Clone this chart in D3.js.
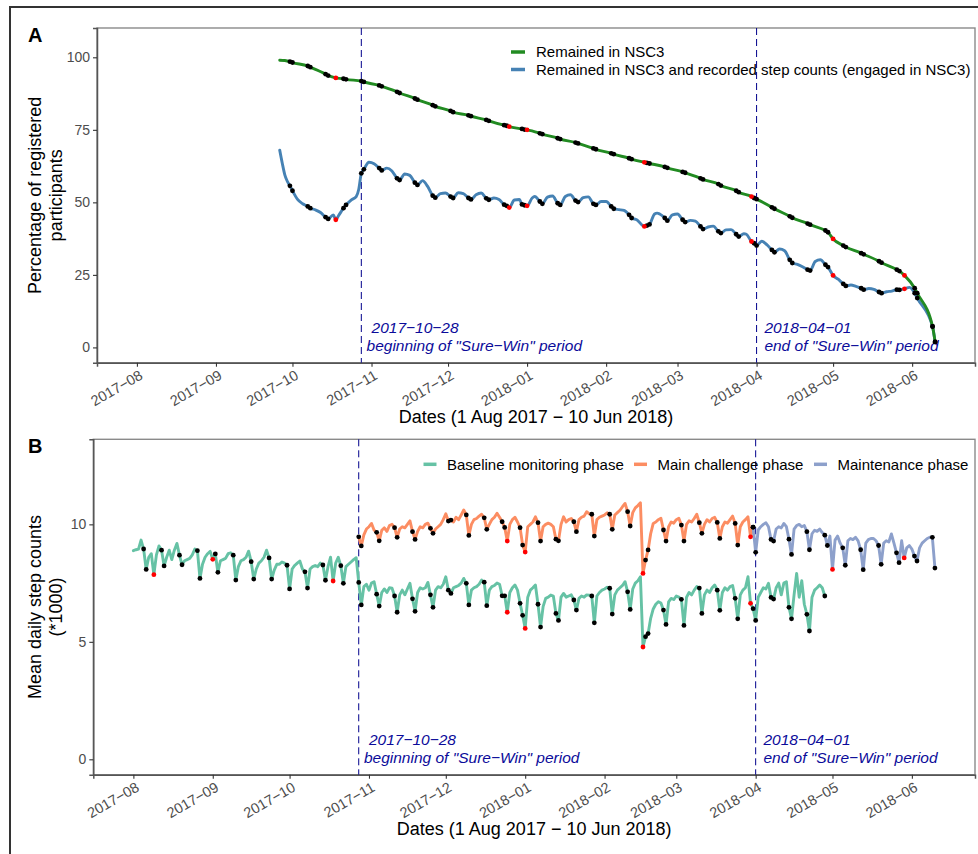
<!DOCTYPE html>
<html>
<head>
<meta charset="utf-8">
<script src="https://cdn.jsdelivr.net/npm/d3@7"></script>
<style>
  body { margin: 0; background: #fff; }
  text { font-family: "Liberation Sans", Arial, sans-serif; }
</style>
</head>
<body>
<svg id="chart" width="978" height="854"></svg>
<script>
// ---- data ----
const tickMonths = ["2017-08", "2017-09", "2017-10", "2017-11", "2017-12", "2018-01",
  "2018-02", "2018-03", "2018-04", "2018-05", "2018-06"];
const holidays = ["2017-08-09", "2017-09-01", "2017-10-18", "2017-12-25", "2018-01-01",
  "2018-02-16", "2018-03-30", "2018-05-01", "2018-05-29"];
const markerDates = ["2017-10-28", "2018-04-01"];
const markerNotes = [["2017\u221210\u221228", "beginning of \"Sure\u2212Win\" period"],
  ["2018\u221204\u221201", "end of \"Sure\u2212Win\" period"]];

// panel A: percentage of registered participants
const remainedRows = [
  ["2017-09-26", 99.0], ["2017-09-28", 98.9], ["2017-09-30", 98.5], ["2017-10-01", 98.2],
  ["2017-10-07", 97.0], ["2017-10-08", 96.6], ["2017-10-14", 94.2], ["2017-10-15", 93.7],
  ["2017-10-18", 92.9], ["2017-10-21", 92.6], ["2017-10-22", 92.4], ["2017-10-28", 91.8],
  ["2017-10-29", 91.5], ["2017-11-04", 90.3], ["2017-11-05", 90.0], ["2017-11-11", 88.1],
  ["2017-11-12", 87.7], ["2017-11-18", 85.8], ["2017-11-19", 85.4], ["2017-11-25", 83.5],
  ["2017-11-26", 83.1], ["2017-12-02", 81.5], ["2017-12-03", 81.1], ["2017-12-09", 80.0],
  ["2017-12-10", 79.7], ["2017-12-16", 78.4], ["2017-12-17", 78.1], ["2017-12-23", 76.6],
  ["2017-12-24", 76.4], ["2017-12-25", 76.1], ["2017-12-30", 75.3], ["2017-12-31", 75.1],
  ["2018-01-01", 75.0], ["2018-01-06", 73.8], ["2018-01-07", 73.5], ["2018-01-13", 72.1],
  ["2018-01-14", 71.8], ["2018-01-20", 70.6], ["2018-01-21", 70.3], ["2018-01-27", 68.6],
  ["2018-01-28", 68.3], ["2018-02-03", 66.9], ["2018-02-04", 66.6], ["2018-02-10", 65.2],
  ["2018-02-11", 64.9], ["2018-02-16", 63.8], ["2018-02-17", 63.6], ["2018-02-18", 63.4],
  ["2018-02-24", 62.2], ["2018-02-25", 61.9], ["2018-03-03", 60.5], ["2018-03-04", 60.2],
  ["2018-03-10", 58.3], ["2018-03-11", 57.9], ["2018-03-17", 56.3], ["2018-03-18", 55.8],
  ["2018-03-24", 54.0], ["2018-03-25", 53.5], ["2018-03-30", 52.0], ["2018-03-31", 51.5],
  ["2018-04-01", 51.1], ["2018-04-07", 48.3], ["2018-04-08", 47.8], ["2018-04-14", 45.2],
  ["2018-04-15", 44.7], ["2018-04-21", 42.7], ["2018-04-22", 42.3], ["2018-04-28", 40.3],
  ["2018-04-29", 39.7], ["2018-05-01", 37.4], ["2018-05-05", 35.1], ["2018-05-06", 34.6],
  ["2018-05-12", 32.5], ["2018-05-13", 32.1], ["2018-05-19", 29.7], ["2018-05-20", 29.2],
  ["2018-05-26", 26.8], ["2018-05-27", 26.3], ["2018-05-29", 24.8], ["2018-06-02", 20.4],
  ["2018-06-03", 18.7], ["2018-06-09", 7.2], ["2018-06-10", 1.9]
];
const engagedRows = [
  ["2017-09-26", 68.0], ["2017-09-27", 63.5], ["2017-09-28", 59.5], ["2017-09-29", 57.2],
  ["2017-09-30", 55.7], ["2017-10-01", 54.0], ["2017-10-03", 51.0], ["2017-10-05", 49.5],
  ["2017-10-07", 48.6], ["2017-10-08", 48.0], ["2017-10-10", 47.4], ["2017-10-12", 46.5],
  ["2017-10-14", 44.9], ["2017-10-15", 44.3], ["2017-10-17", 45.7], ["2017-10-18", 44.0],
  ["2017-10-19", 45.3], ["2017-10-21", 48.0], ["2017-10-22", 49.1], ["2017-10-24", 50.8],
  ["2017-10-26", 52.0], ["2017-10-27", 54.5], ["2017-10-28", 60.0], ["2017-10-29", 61.4],
  ["2017-10-31", 63.8], ["2017-11-02", 63.3], ["2017-11-04", 61.8], ["2017-11-05", 61.0],
  ["2017-11-07", 61.8], ["2017-11-09", 60.8], ["2017-11-11", 58.3], ["2017-11-12", 57.7],
  ["2017-11-14", 59.8], ["2017-11-16", 59.3], ["2017-11-18", 56.8], ["2017-11-19", 56.0],
  ["2017-11-21", 57.5], ["2017-11-23", 55.5], ["2017-11-25", 52.3], ["2017-11-26", 51.6],
  ["2017-11-28", 53.0], ["2017-11-30", 53.2], ["2017-12-02", 52.0], ["2017-12-03", 51.5],
  ["2017-12-05", 53.3], ["2017-12-07", 53.0], ["2017-12-09", 51.5], ["2017-12-10", 51.0],
  ["2017-12-12", 52.6], ["2017-12-14", 53.2], ["2017-12-16", 51.4], ["2017-12-17", 50.9],
  ["2017-12-19", 51.5], ["2017-12-21", 51.0], ["2017-12-23", 49.2], ["2017-12-24", 48.8],
  ["2017-12-25", 48.2], ["2017-12-27", 50.8], ["2017-12-29", 51.0], ["2017-12-30", 49.3],
  ["2017-12-31", 49.0], ["2018-01-01", 48.8], ["2018-01-03", 51.5], ["2018-01-04", 52.0],
  ["2018-01-06", 50.3], ["2018-01-07", 49.5], ["2018-01-09", 51.8], ["2018-01-11", 52.2],
  ["2018-01-13", 49.7], ["2018-01-14", 49.1], ["2018-01-16", 52.0], ["2018-01-18", 52.6],
  ["2018-01-20", 50.6], ["2018-01-21", 50.1], ["2018-01-23", 51.6], ["2018-01-25", 51.9],
  ["2018-01-27", 49.5], ["2018-01-28", 49.1], ["2018-01-30", 50.3], ["2018-02-01", 50.3],
  ["2018-02-03", 48.6], ["2018-02-04", 47.8], ["2018-02-06", 47.5], ["2018-02-08", 47.2],
  ["2018-02-10", 45.7], ["2018-02-11", 44.6], ["2018-02-13", 44.0], ["2018-02-16", 41.7],
  ["2018-02-17", 42.0], ["2018-02-18", 42.4], ["2018-02-20", 46.0], ["2018-02-21", 46.3],
  ["2018-02-22", 46.0], ["2018-02-24", 44.6], ["2018-02-25", 43.7], ["2018-02-27", 45.7],
  ["2018-03-01", 46.0], ["2018-03-03", 44.0], ["2018-03-04", 43.2], ["2018-03-06", 43.8],
  ["2018-03-08", 43.5], ["2018-03-10", 41.7], ["2018-03-11", 40.8], ["2018-03-13", 41.5],
  ["2018-03-15", 41.8], ["2018-03-17", 40.0], ["2018-03-18", 39.4], ["2018-03-20", 40.5],
  ["2018-03-22", 40.6], ["2018-03-24", 39.0], ["2018-03-25", 38.2], ["2018-03-27", 39.2],
  ["2018-03-28", 39.0], ["2018-03-30", 36.5], ["2018-03-31", 35.9], ["2018-04-01", 35.1],
  ["2018-04-03", 36.6], ["2018-04-05", 35.4], ["2018-04-07", 33.6], ["2018-04-08", 32.8],
  ["2018-04-10", 33.9], ["2018-04-12", 33.3], ["2018-04-14", 30.2], ["2018-04-15", 29.1],
  ["2018-04-17", 28.6], ["2018-04-19", 27.8], ["2018-04-21", 26.8], ["2018-04-22", 26.5],
  ["2018-04-24", 29.6], ["2018-04-26", 30.2], ["2018-04-28", 28.5], ["2018-04-29", 27.7],
  ["2018-05-01", 24.8], ["2018-05-03", 23.5], ["2018-05-05", 21.9], ["2018-05-06", 21.2],
  ["2018-05-08", 21.5], ["2018-05-10", 21.0], ["2018-05-12", 20.4], ["2018-05-13", 19.9],
  ["2018-05-15", 20.3], ["2018-05-17", 20.0], ["2018-05-19", 19.1], ["2018-05-20", 18.7],
  ["2018-05-22", 19.2], ["2018-05-24", 19.4], ["2018-05-26", 19.9], ["2018-05-27", 19.8],
  ["2018-05-29", 20.2], ["2018-05-31", 20.7], ["2018-06-02", 18.7], ["2018-06-03", 17.0],
  ["2018-06-09", 7.2], ["2018-06-10", 1.9]
];

// panel B: mean daily step counts (*1000), one value per day from the start date
const baselineStart = "2017-08-01";
const baselineSteps = [
  8.88, 8.92, 8.95, 9.33, 8.95, 8.08,
  8.6, 8.75, 7.86, 8.7, 9.08, 8.9, 8.23,
  8.6, 8.9, 8.5, 8.9, 9.19, 8.69, 8.28,
  8.45, 8.5, 8.55, 8.7, 8.95, 8.88, 7.70,
  8.3, 8.6, 8.75, 8.85, 8.51, 8.74, 7.96,
  8.45, 8.5, 8.55, 8.75, 8.79, 8.69, 7.63,
  8.2, 8.45, 8.5, 8.6, 8.86, 8.41, 7.67,
  8.1, 8.35, 8.45, 8.6, 8.9, 8.57, 7.67,
  8.05, 8.3, 8.3, 8.4, 8.35, 8.26, 7.25,
  8.1, 8.25, 8.35, 8.44, 8.1, 7.98, 7.29,
  8.1, 8.2, 8.25, 8.2, 8.35, 8.27, 7.62,
  8.2, 8.6, 7.59, 8.35, 8.6, 8.24, 7.49,
  8.2, 8.3, 8.4, 8.5, 8.58, 7.53, 6.57,
  7.35, 7.45, 7.2, 7.5, 7.56, 7.03, 6.52,
  7.1, 7.25, 7.1, 7.3, 7.28, 6.95, 6.26,
  7.0, 7.2, 7.0, 7.25, 7.49, 6.83, 6.30,
  7.1, 7.3, 7.25, 7.3, 7.53, 7.0, 6.47,
  7.2, 7.35, 7.3, 7.45, 7.77, 7.2, 7.06,
  7.3, 7.35, 7.4, 7.5, 7.70, 7.49, 6.57,
  7.2, 7.3, 7.35, 7.45, 7.63, 7.54, 6.54,
  7.2, 7.35, 7.4, 7.5, 7.45, 6.96, 6.96,
  6.26, 7.1, 7.3, 7.42, 7.2, 6.64, 6.13,
  5.57, 6.9, 7.2, 7.3, 7.42, 6.60, 5.63,
  6.5, 6.85, 6.9, 6.99, 6.95, 6.21, 5.91,
  6.9, 7.06, 6.9, 6.95, 7.0, 6.78, 6.35,
  6.85, 6.95, 6.9, 7.0, 6.99, 6.95, 5.81,
  6.95, 7.1, 7.2, 7.25, 7.32, 7.28, 6.18,
  7.0, 7.2, 7.3, 7.4, 7.56, 7.13, 6.38,
  7.25, 7.5, 7.6, 7.77, 4.78, 5.22, 5.35,
  6.0, 6.4, 6.6, 6.71, 6.65, 6.35, 5.74,
  6.7, 6.85, 6.8, 6.95, 6.9, 6.81, 5.70,
  6.9, 7.1, 7.0, 7.2, 7.35, 7.29, 6.21,
  7.0, 7.2, 7.1, 7.3, 7.42, 7.2, 6.34,
  7.1, 7.3, 7.2, 7.35, 7.4, 6.85, 5.98,
  7.0, 7.2, 7.3, 7.77, 6.64, 6.41, 5.91,
  6.9, 7.1, 7.3, 7.25, 7.49, 6.89, 6.82,
  7.3, 7.5, 7.0, 7.5, 7.56, 6.47, 5.98,
  7.0, 7.91, 6.9, 7.6, 6.6, 6.17, 5.46,
  6.9, 7.2, 7.3, 7.42, 7.3, 6.95
];
const challengeStart = "2017-10-28";
const challengeSteps = [
  9.47, 9.08,
  9.55, 9.8, 9.9, 10.04, 9.75, 9.66, 9.30,
  9.75, 9.85, 9.7, 9.95, 10.0, 9.86, 9.45,
  9.8, 9.9, 9.85, 10.0, 10.15, 9.69, 9.36,
  9.7, 9.9, 9.85, 10.0, 10.05, 9.83, 9.62,
  9.8, 9.9, 10.0, 10.2, 10.45, 10.14, 10.18,
  10.1, 10.3, 10.2, 10.4, 10.61, 10.4, 9.53,
  10.0, 10.2, 10.25, 10.35, 10.43, 10.28, 9.79,
  10.0, 10.2, 10.3, 10.47, 10.3, 10.11, 9.87,
  9.29, 10.0, 10.2, 10.3, 10.1, 9.86, 9.12,
  8.82, 9.9, 10.0, 10.1, 10.32, 10.07, 9.29,
  9.9, 10.0, 10.05, 10.0, 9.9, 9.37, 9.30,
  10.0, 10.32, 10.1, 10.2, 10.25, 10.11, 9.69,
  10.2, 10.3, 10.35, 10.54, 10.45, 10.43, 9.50,
  10.2, 10.3, 10.35, 10.4, 10.49, 10.43, 9.79,
  10.4, 10.5, 10.6, 10.75, 10.89, 10.54, 9.93,
  10.5, 10.7, 10.8, 10.92, 7.91, 8.48, 8.91,
  9.6, 10.04, 10.1, 10.2, 10.26, 9.76, 9.29,
  9.9, 10.1, 10.05, 10.2, 10.26, 9.97, 9.29,
  10.0, 10.15, 10.1, 10.25, 10.43, 10.07, 9.62,
  10.0, 10.2, 10.1, 10.25, 10.3, 10.08, 9.40,
  9.9, 10.1, 10.05, 10.2, 10.35, 10.04, 9.12,
  9.9, 10.1, 10.2, 10.32, 9.47, 9.88
];
const maintenanceStart = "2018-03-31";
const maintenanceSteps = [
  9.88, 8.81,
  9.76, 9.9, 10.0, 10.07, 9.9, 9.36, 9.29,
  9.8, 9.9, 9.85, 10.04, 9.9, 9.37, 8.72,
  9.8, 9.95, 10.0, 9.9, 9.95, 9.69, 8.92,
  9.6, 9.75, 9.7, 9.8, 9.65, 9.54, 9.1,
  9.5, 8.08, 9.33, 9.5, 9.2, 9.0, 8.26,
  9.3, 9.4, 9.35, 9.45, 9.3, 8.92, 8.07,
  9.2, 9.35, 9.4, 9.4, 9.3, 9.1, 8.30,
  9.2, 9.3, 9.25, 9.59, 9.2, 8.79, 8.37,
  9.3, 8.57, 9.0, 9.1, 8.95, 8.65, 8.44,
  9.0, 9.2, 9.3, 9.4, 9.45, 9.45, 8.14
];

// ---- helpers ----
const parseDate = d3.utcParse("%Y-%m-%d");
const dayKey = d3.utcFormat("%Y-%m-%d");
const dayMs = 864e5;
const minus = s => s.replace(/-/g, "\u2212");
const holidaySet = new Set(holidays);

const fromPairs = rows => rows.map(r => ({ date: parseDate(r[0]), value: r[1] }));
const fromDaily = (start, vals) => vals.map((v, i) => ({
  date: new Date(parseDate(start).getTime() + i * dayMs), value: v
}));
const isMarked = d => {
  const wd = d.date.getUTCDay();
  return wd === 0 || wd === 6 || holidaySet.has(dayKey(d.date));
};
const dotColor = d => holidaySet.has(dayKey(d.date)) ? "#ff0000" : "#000000";

const svg = d3.select("#chart");
svg.append("rect").attr("width", 978).attr("height", 854).attr("fill", "#fff");
svg.append("rect")
  .attr("x", 10).attr("y", 7).attr("width", 1200).attr("height", 1200)
  .attr("fill", "none").attr("stroke", "#333").attr("stroke-width", 2);

// both panels share the same date span (ggplot expansion around 1 Aug 2017 - 10 Jun 2018)
const xDomain = [new Date(Date.UTC(2017, 6, 16, 8, 24)), new Date(Date.UTC(2018, 5, 25, 15, 36))];
const monthDates = tickMonths.map(m => parseDate(m + "-01"));

const drawPanel = p => {
  const x = d3.scaleUtc().domain(xDomain).range([p.left, p.right]);
  const y = d3.scaleLinear().domain(p.yDomain).range([p.bottom, p.top]);
  const g = svg.append("g");

  g.append("rect")
    .attr("x", p.left).attr("y", p.top)
    .attr("width", p.right - p.left).attr("height", p.bottom - p.top)
    .attr("fill", "none").attr("stroke", "#8a8a8a").attr("stroke-width", 1.4);

  const yAxis = g.append("g")
    .attr("transform", `translate(${p.left},0)`)
    .call(d3.axisLeft(y).tickValues(p.yTicks).tickSize(4).tickPadding(3).tickFormat(d3.format("d")));
  const xAxis = g.append("g")
    .attr("transform", `translate(0,${p.bottom})`)
    .call(d3.axisBottom(x).tickValues(monthDates).tickSize(4)
      .tickFormat((d, i) => minus(tickMonths[i])));
  [yAxis, xAxis].forEach(a => {
    a.select(".domain").attr("stroke", "#555").attr("stroke-width", 1.5);
    a.selectAll(".tick line").attr("stroke", "#333").attr("stroke-width", 1.1);
    a.selectAll(".tick text").attr("fill", "#4d4d4d")
      .style("font-size", "14px").style("font-family", "'Liberation Sans', Arial, sans-serif");
  });
  xAxis.selectAll(".tick text")
    .style("font-size", "14.5px")
    .attr("x", 0).attr("y", 0).attr("dy", "0.75em")
    .attr("transform", "translate(1,6) rotate(-30)")
    .style("text-anchor", "end");

  // x title
  g.append("text")
    .attr("x", (p.left + p.right) / 2).attr("y", p.bottom + 60)
    .attr("text-anchor", "middle").attr("font-size", 18)
    .text("Dates (1 Aug 2017 \u2212 10 Jun 2018)");

  // y title, two lines
  const cy = (p.top + p.bottom) / 2;
  p.yTitle.forEach((line, i) => {
    g.append("text")
      .attr("transform", `translate(${41 + i * 21},${cy}) rotate(-90)`)
      .attr("text-anchor", "middle").attr("font-size", 18)
      .text(line);
  });

  // panel letter
  g.append("text")
    .attr("x", 28).attr("y", p.top + 14)
    .attr("font-size", 20).attr("font-weight", "bold")
    .text(p.letter);

  // Sure-Win markers with a two-line note
  markerDates.forEach((m, i) => {
    const mx = x(parseDate(m));
    g.append("line")
      .attr("x1", mx).attr("x2", mx).attr("y1", p.top).attr("y2", p.bottom)
      .attr("stroke", "#00008b").attr("stroke-width", 1).attr("stroke-dasharray", "7,4");
    const tx = mx + (i === 0 ? 5.2 : 7.8);
    const note = g.append("text")
      .attr("font-size", 15.5).attr("font-style", "italic").attr("fill", "#0b0b9a");
    note.append("tspan")
      .attr("x", tx + (i === 0 ? 5 : 0)).attr("y", p.bottom - 29.5)
      .text(markerNotes[i][0]);
    note.append("tspan")
      .attr("x", tx).attr("y", p.bottom - 11.5)
      .text(markerNotes[i][1]);
  });

  return { x, y, g };
};

const drawSeries = (panel, rows, color, curve) => {
  panel.g.append("path")
    .datum(rows)
    .attr("fill", "none").attr("stroke", color).attr("stroke-width", 2.9)
    .attr("stroke-linejoin", "round").attr("stroke-linecap", "round")
    .attr("d", d3.line().x(d => panel.x(d.date)).y(d => panel.y(d.value)).curve(curve));
};

const drawDots = (panel, rows) => {
  const marked = rows.filter(isMarked)
    .sort((a, b) => d3.ascending(dotColor(a) === "#ff0000", dotColor(b) === "#ff0000"));
  panel.g.append("g").selectAll("circle")
    .data(marked)
    .join("circle")
    .attr("cx", d => panel.x(d.date)).attr("cy", d => panel.y(d.value))
    .attr("r", 2.4).attr("fill", dotColor);
};

// ---- panel A ----
const panelA = drawPanel({
  left: 97, right: 975, top: 28, bottom: 362.7,
  yDomain: [-5.27, 110.1], yTicks: [0, 25, 50, 75, 100],
  yTitle: ["Percentage of registered", "participants"], letter: "A"
});
const remained = fromPairs(remainedRows);
const engaged = fromPairs(engagedRows);
drawSeries(panelA, engaged, "#4682b4", d3.curveMonotoneX);
drawSeries(panelA, remained, "#228b22", d3.curveMonotoneX);
drawDots(panelA, engaged);
drawDots(panelA, remained);

const legendA = [["Remained in NSC3", "#228b22"],
  ["Remained in NSC3 and recorded step counts (engaged in NSC3)", "#4682b4"]];
legendA.forEach((item, i) => {
  const ly = 52 + i * 17.5;
  panelA.g.append("line")
    .attr("x1", 511).attr("x2", 525).attr("y1", ly).attr("y2", ly)
    .attr("stroke", item[1]).attr("stroke-width", 3.5);
  panelA.g.append("text")
    .attr("x", 536).attr("y", ly).attr("dy", "0.35em")
    .attr("font-size", 15).text(item[0]);
});

// ---- panel B ----
const panelB = drawPanel({
  left: 93.3, right: 975, top: 439.3, bottom: 774.7,
  yDomain: [-0.655, 13.62], yTicks: [0, 5, 10],
  yTitle: ["Mean daily step counts", "(*1000)"], letter: "B"
});
const phases = [
  { name: "Baseline monitoring phase", color: "#66c2a5", rows: fromDaily(baselineStart, baselineSteps), lx: 423.5 },
  { name: "Main challenge phase", color: "#fc8d62", rows: fromDaily(challengeStart, challengeSteps), lx: 634 },
  { name: "Maintenance phase", color: "#8da0cb", rows: fromDaily(maintenanceStart, maintenanceSteps), lx: 814 }
];
phases.forEach(ph => drawSeries(panelB, ph.rows, ph.color, d3.curveLinear));
phases.forEach(ph => drawDots(panelB, ph.rows));
phases.forEach(ph => {
  panelB.g.append("line")
    .attr("x1", ph.lx).attr("x2", ph.lx + 13).attr("y1", 464.3).attr("y2", 464.3)
    .attr("stroke", ph.color).attr("stroke-width", 3.5);
  panelB.g.append("text")
    .attr("x", ph.lx + 23.5).attr("y", 464.3).attr("dy", "0.35em")
    .attr("font-size", 15).text(ph.name);
});
</script>
</body>
</html>
